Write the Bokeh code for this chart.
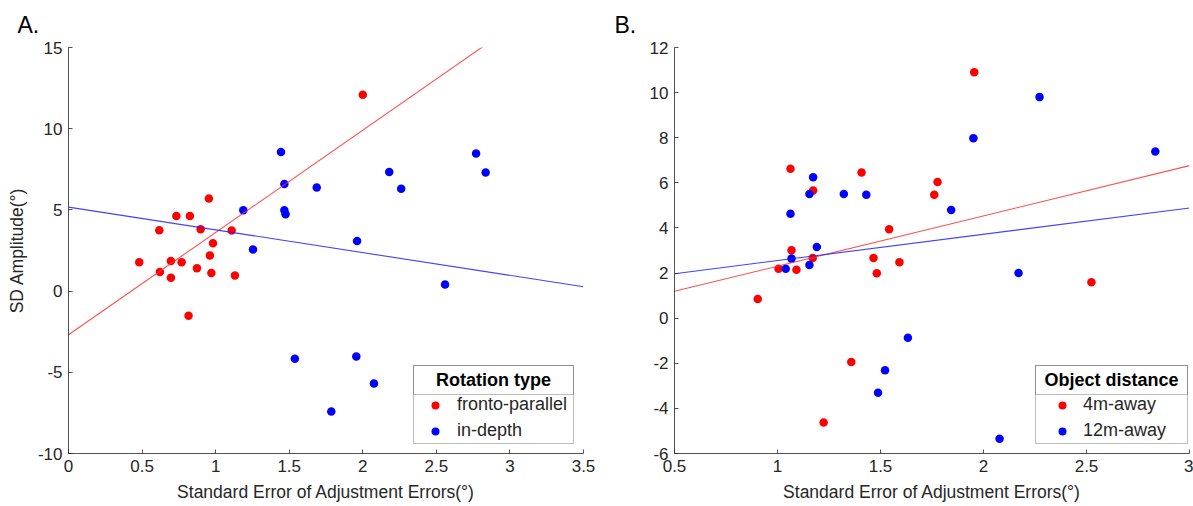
from bokeh.plotting import figure
from bokeh.layouts import row
from bokeh.models import (Range1d, FixedTicker, NumeralTickFormatter, Legend, LegendItem,
                          BoxAnnotation, Label, Title)
from bokeh.embed import file_html
from bokeh.resources import INLINE

FONT = "Liberation Sans"
AX = "#262626"

# ---------------- Panel A data ----------------
a_fp_x = [0.481, 0.617, 0.621, 0.696, 0.696, 0.733, 0.769, 0.825, 0.816, 0.873, 0.898,
          0.954, 0.961, 0.971, 0.982, 1.109, 1.131, 2.000]
a_fp_y = [1.78, 3.75, 1.18, 1.86, 0.82, 4.63, 1.78, 4.63, -1.52, 1.41, 3.81,
          5.70, 2.19, 1.12, 2.95, 3.73, 0.96, 12.09]
a_id_x = [1.188, 1.254, 1.444, 1.467, 1.467, 1.475, 1.538, 1.687, 1.786, 1.956, 1.961,
          2.076, 2.180, 2.261, 2.559, 2.770, 2.835]
a_id_y = [4.98, 2.56, 8.57, 6.59, 4.98, 4.73, -4.16, 6.38, -7.41, -4.02, 3.08,
          -5.69, 7.33, 6.30, 0.41, 8.48, 7.31]
a_fit_fp = [-2.69, 6.30]   # intercept, slope
a_fit_id = [5.17, -1.40]
a_xrange = [0, 3.5]
a_yrange = [-10, 15]
a_xticks = [0, 0.5, 1, 1.5, 2, 2.5, 3, 3.5]
a_yticks = [-10, -5, 0, 5, 10, 15]
a_labels = ["fronto-parallel", "in-depth"]

# ---------------- Panel B data ----------------
b_4m_x = [1.063, 1.408, 1.173, 1.542, 1.068, 1.171, 1.466, 1.592, 1.005, 1.092, 1.482,
          0.904, 1.955, 1.777, 1.761, 2.524, 1.358, 1.224]
b_4m_y = [6.62, 6.46, 5.66, 3.94, 3.01, 2.67, 2.67, 2.48, 2.19, 2.15, 1.99,
          0.85, 10.90, 6.04, 5.47, 1.59, -1.94, -4.63]
b_12m_x = [1.173, 1.155, 1.322, 1.431, 1.063, 1.191, 1.068, 1.040, 1.155, 1.633, 2.272,
           1.951, 2.834, 1.843, 2.170, 1.522, 1.488, 2.078]
b_12m_y = [6.25, 5.51, 5.51, 5.47, 4.63, 3.15, 2.64, 2.19, 2.36, -0.87, 9.80,
           7.98, 7.39, 4.80, 2.00, -2.31, -3.31, -5.35]
b_fit_4m = [0.076, 2.229]
b_fit_12m = [1.388, 1.165]
b_xrange = [0.5, 3]
b_yrange = [-6, 12]
b_xticks = [0.5, 1, 1.5, 2, 2.5, 3]
b_yticks = [-6, -4, -2, 0, 2, 4, 6, 8, 10, 12]
b_labels = ["4m-away", "12m-away"]

XLABEL = "Standard Error of Adjustment Errors(°)"
YLABEL = "SD Amplitude(°)"


def panel(letter, xs1, ys1, xs2, ys2, fit1, fit2, xr, yr, xt, yt, labels, title,
          border_left, border_right, ylabel, leg):
    p = figure(frame_width=515, frame_height=406, output_backend="svg", toolbar_location=None,
               x_range=Range1d(*xr), y_range=Range1d(*yr),
               min_border_left=border_left, min_border_right=border_right,
               min_border_top=46, min_border_bottom=54,
               background_fill_color="white", border_fill_color="white")
    p.outline_line_color = None
    p.grid.visible = False
    p.xaxis.ticker = FixedTicker(ticks=xt)
    p.yaxis.ticker = FixedTicker(ticks=yt)
    for ax in (p.xaxis[0], p.yaxis[0]):
        ax.formatter = NumeralTickFormatter(format="0.[0]")
        ax.major_tick_in = 4
        ax.major_tick_out = 0
        ax.minor_tick_line_color = None
        ax.axis_line_color = AX
        ax.axis_line_width = 0.8
        ax.major_tick_line_color = AX
        ax.major_tick_line_width = 0.8
        ax.major_label_text_font = FONT
        ax.major_label_text_font_size = "17px"
        ax.major_label_text_color = AX
        ax.major_label_standoff = 6
        ax.axis_label_text_font = FONT
        ax.axis_label_text_font_size = "17.5px"
        ax.axis_label_text_font_style = "normal"
        ax.axis_label_text_color = AX
    p.xaxis.axis_label = XLABEL
    p.xaxis.axis_label_standoff = 7
    if ylabel:
        p.yaxis.axis_label = ylabel
        p.yaxis.axis_label_standoff = 8

    # small copies (hidden under the real dots) used as legend glyphs
    g1 = p.scatter(xs1, ys1, size=6, color="#ff0000", line_color=None)
    g2 = p.scatter(xs2, ys2, size=6, color="#0000ff", line_color=None)
    p.scatter(xs1, ys1, size=8.5, color="#ff0000", line_color=None)
    p.scatter(xs2, ys2, size=8.5, color="#0000ff", line_color=None)
    lx = list(xr)
    p.line(lx, [fit1[0] + fit1[1] * v for v in lx], line_color="#ff3030", line_width=1.1, line_alpha=0.85)
    p.line(lx, [fit2[0] + fit2[1] * v for v in lx], line_color="#2020ff", line_width=1.1, line_alpha=0.85)

    # legend frame and title
    bl, br, bt, bb, sep, tcx, dotx, stand = leg
    p.add_layout(BoxAnnotation(left=bl, right=br, top=bt, bottom=bb,
                               left_units="screen", right_units="screen",
                               top_units="screen", bottom_units="screen",
                               fill_color="white", fill_alpha=1,
                               line_color=AX, line_width=1, level="annotation"))
    p.add_layout(BoxAnnotation(left=bl, right=br, top=bt, bottom=sep,
                               left_units="screen", right_units="screen",
                               top_units="screen", bottom_units="screen",
                               fill_alpha=0, line_color=AX, line_width=1, level="annotation"))
    p.add_layout(Label(x=tcx, y=(bt + sep) / 2, x_units="screen", y_units="screen",
                       text=title, text_align="center", text_baseline="middle",
                       text_font=FONT, text_font_size="18px", text_font_style="bold",
                       text_color="#000000"))
    legend = Legend(items=[LegendItem(label=labels[0], renderers=[g1]),
                           LegendItem(label=labels[1], renderers=[g2])],
                    location=(dotx - 10, 12), padding=0, margin=0, spacing=5,
                    glyph_width=20, glyph_height=20, label_height=20, label_standoff=stand,
                    border_line_color=None, background_fill_alpha=0,
                    label_text_font=FONT, label_text_font_size="18px", label_text_color=AX)
    p.add_layout(legend, "center")

    p.add_layout(Title(text=letter, align="left", offset=-(border_left - 17), standoff=19,
                       text_font=FONT, text_font_size="23px", text_font_style="normal",
                       text_color="#000000"), "above")
    return p


pa = panel("A.", a_fp_x, a_fp_y, a_id_x, a_id_y, a_fit_fp, a_fit_id, a_xrange, a_yrange,
           a_xticks, a_yticks, a_labels, "Rotation type", 68, 14, YLABEL,
           (345, 505, 88, 10, 59, 425, 367, 12))
pb = panel("B.", b_4m_x, b_4m_y, b_12m_x, b_12m_y, b_fit_4m, b_fit_12m, b_xrange, b_yrange,
           b_xticks, b_yticks, b_labels, "Object distance", 77, 4, None,
           (361, 513, 88, 10, 59, 437, 388, 11))

layout = row(pa, pb)
open("out.html", "w").write(file_html(layout, INLINE))
